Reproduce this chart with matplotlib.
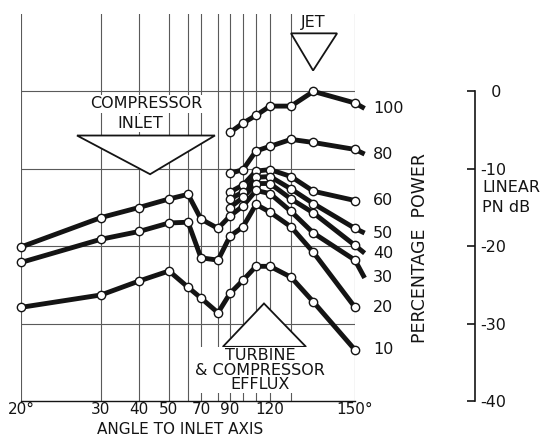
import numpy as np
import matplotlib
matplotlib.use('Agg')
import matplotlib.pyplot as plt
from matplotlib.patches import Polygon
from matplotlib.transforms import blended_transform_factory

# angle grid of the chart (the angle axis is not linear)
grid_angles = [20, 30, 40, 50, 60, 70, 80, 90, 100, 110, 120, 130, 150]
grid_labels = ['20°', '30', '40', '50', '', '70', '', '90', '', '', '120', '', '150°']

# angles of the plotted points
ang_long = [20, 30, 40, 50, 60, 70, 80, 90, 100, 110, 120, 130, 137, 150]
ang_short = [90, 100, 110, 120, 130, 137, 150]
ang_end = 153   # where some lines run on past the last point

# linear PN dB
pow100 = [-5.3, -4.1, -3.1, -1.9, -1.9, 0.0, -1.5]
pow80 = [-10.6, -10.1, -7.7, -7.1, -6.2, -6.6, -7.5]
pow60 = [-13.0, -12.1, -10.3, -10.1, -11.0, -12.9, -14.1]
pow50 = [-13.9, -13.0, -11.1, -11.0, -12.6, -14.5, -17.7]
pow40 = [-15.0, -13.7, -11.9, -11.9, -13.9, -15.7, -19.9]
pow30 = [-20.1, -16.3, -15.0, -13.9, -13.3, -16.5, -17.7, -16.1, -14.8, -12.8, -13.2, -15.5, -18.3, -21.8]
pow20 = [-22.1, -19.1, -18.1, -17.0, -16.9, -21.5, -21.8, -18.7, -17.5, -14.6, -15.6, -17.5, -20.8, -27.9]
pow10 = [-27.9, -26.3, -24.5, -23.2, -25.3, -26.7, -28.6, -26.1, -24.4, -22.6, -22.6, -24.0, -27.2, -33.4]

# line run-on values at ang_end (None = line stops at the last point)
end100, end80, end60, end50, end40, end30, end20, end10 = -2.2, -8.1, None, -18.3, -20.9, -24.1, None, None

series = [
    ('100', ang_short, pow100, end100),
    ('80', ang_short, pow80, end80),
    ('60', ang_short, pow60, end60),
    ('50', ang_short, pow50, end50),
    ('40', ang_short, pow40, end40),
    ('30', ang_long, pow30, end30),
    ('20', ang_long, pow20, end20),
    ('10', ang_long, pow10, end10),
]

# position of each grid angle along the axis (from the original sheet)
grid_pos = np.array([21, 101, 139, 169, 188, 201, 218, 230, 243, 256, 270, 291, 355], float)
ga = np.array(grid_angles, float)
s_lo = (grid_pos[1] - grid_pos[0]) / (ga[1] - ga[0])
s_hi = (grid_pos[-1] - grid_pos[-2]) / (ga[-1] - ga[-2])


def fwd(a):
    a = np.asarray(a, float)
    return (np.interp(a, ga, grid_pos) + np.where(a > ga[-1], (a - ga[-1]) * s_hi, 0)
            + np.where(a < ga[0], (a - ga[0]) * s_lo, 0))


def inv(p):
    p = np.asarray(p, float)
    return (np.interp(p, grid_pos, ga) + np.where(p > grid_pos[-1], (p - grid_pos[-1]) / s_hi, 0)
            + np.where(p < grid_pos[0], (p - grid_pos[0]) / s_lo, 0))


plt.rcParams['font.family'] = 'DejaVu Sans'
ink = '#141414'
fs = 11.5

fig = plt.figure(figsize=(5.44, 4.38), dpi=100)
ax = fig.add_axes([21 / 544, 37 / 438, 334 / 544, 387 / 438])
ax.set_xscale('function', functions=(fwd, inv))
ax.set_xlim(20, 150)
ax.set_ylim(-40, 10)

# grid
for a in grid_angles:
    ax.plot([a, a], [-40, 10], color='#5a5a5a', lw=0.8, zorder=1)
for d in [0, -10, -20, -30]:
    ax.plot([20, 150], [d, d], color='#5a5a5a', lw=0.8, zorder=1)

for sp in ['left', 'right', 'top']:
    ax.spines[sp].set_visible(False)
ax.spines['bottom'].set_color(ink)
ax.spines['bottom'].set_linewidth(1.0)
ax.set_yticks([])
ax.set_xticks(grid_angles)
ax.set_xticklabels(grid_labels, fontsize=11, color=ink)
ax.xaxis.set_minor_locator(matplotlib.ticker.NullLocator())
ax.tick_params(axis='x', length=0, pad=1)

# curve labels sit in a fixed column right of the plot
lab_tr = blended_transform_factory(fig.transFigure, ax.transData)

for name, xs, ys, end in series:
    lx, ly = list(xs), list(ys)
    if end is not None:
        lx.append(ang_end)
        ly.append(end)
    ax.plot(lx, ly, color=ink, lw=3.5, solid_capstyle='butt', zorder=3, clip_on=False)
    ax.plot(xs, ys, 'o', ms=6, mfc='white', mec=ink, mew=1.0, zorder=4, clip_on=False)
    ax.text(373 / 544, ly[-1], name, transform=lab_tr, fontsize=fs, color=ink,
            va='center', ha='left', clip_on=False)

# triangles and labels
tri_inlet = Polygon([[27, -5.7], [78.2, -5.7], [43.7, -10.7]], closed=True,
                    facecolor='white', edgecolor=ink, lw=1.3, zorder=2)
ax.add_patch(tri_inlet)
ax.text(42.3, -1.6, 'COMPRESSOR', fontsize=fs, ha='center', va='center', color=ink,
        zorder=2, bbox=dict(facecolor='white', edgecolor='none', pad=1))
ax.text(40.3, -4.1, 'INLET', fontsize=fs, ha='center', va='center', color=ink,
        zorder=2, bbox=dict(facecolor='white', edgecolor='none', pad=1))

tri_jet = Polygon([[130, 7.5], [144.4, 7.5], [136.9, 2.7]], closed=True,
                  facecolor='white', edgecolor=ink, lw=1.3, zorder=2)
ax.add_patch(tri_jet)
ax.text(136.9, 8.9, 'JET', fontsize=fs, ha='center', va='center', color=ink, zorder=2,
        bbox=dict(facecolor='white', edgecolor='none', pad=1))

tri_turb = Polygon([[84, -33.0], [134.7, -33.0], [115.7, -27.4]], closed=True,
                   facecolor='white', edgecolor=ink, lw=1.3, zorder=2)
ax.add_patch(tri_turb)
ax.text(113, -36.0, 'TURBINE\n& COMPRESSOR\nEFFLUX', fontsize=fs, ha='center', va='center',
        color=ink, linespacing=0.95, zorder=2, bbox=dict(facecolor='white', edgecolor='none', pad=1))

fig.text(180 / 544, 1 - 429 / 438, 'ANGLE TO INLET AXIS', fontsize=11, ha='center', va='center', color=ink)
fig.text(420 / 544, 1 - 248 / 438, 'PERCENTAGE  POWER', fontsize=12.5, ha='center', va='center',
         rotation=90, color=ink)

# linear PN dB scale on the right
ax2 = fig.add_axes([475 / 544, 37 / 438, 0.0001, 387 / 438])
ax2.set_ylim(-40, 10)
ax2.set_xticks([])
for sp in ['left', 'top', 'bottom']:
    ax2.spines[sp].set_visible(False)
ax2.spines['right'].set_bounds(-40, 0)
ax2.spines['right'].set_color(ink)
ax2.spines['right'].set_linewidth(1.2)
ax2.yaxis.tick_right()
ax2.set_yticks([0, -10, -20, -30, -40])
ax2.set_yticklabels(['  0', '-10', '-20', '-30', '-40'], fontsize=fs, color=ink)
ax2.tick_params(axis='y', direction='in', length=6, width=1.2, color=ink, pad=4)
fig.text(482 / 544, 1 - 187 / 438, 'LINEAR', fontsize=fs, ha='left', va='center', color=ink)
fig.text(482 / 544, 1 - 207 / 438, 'PN dB', fontsize=fs, ha='left', va='center', color=ink)

fig.savefig('out.png', dpi=100)
